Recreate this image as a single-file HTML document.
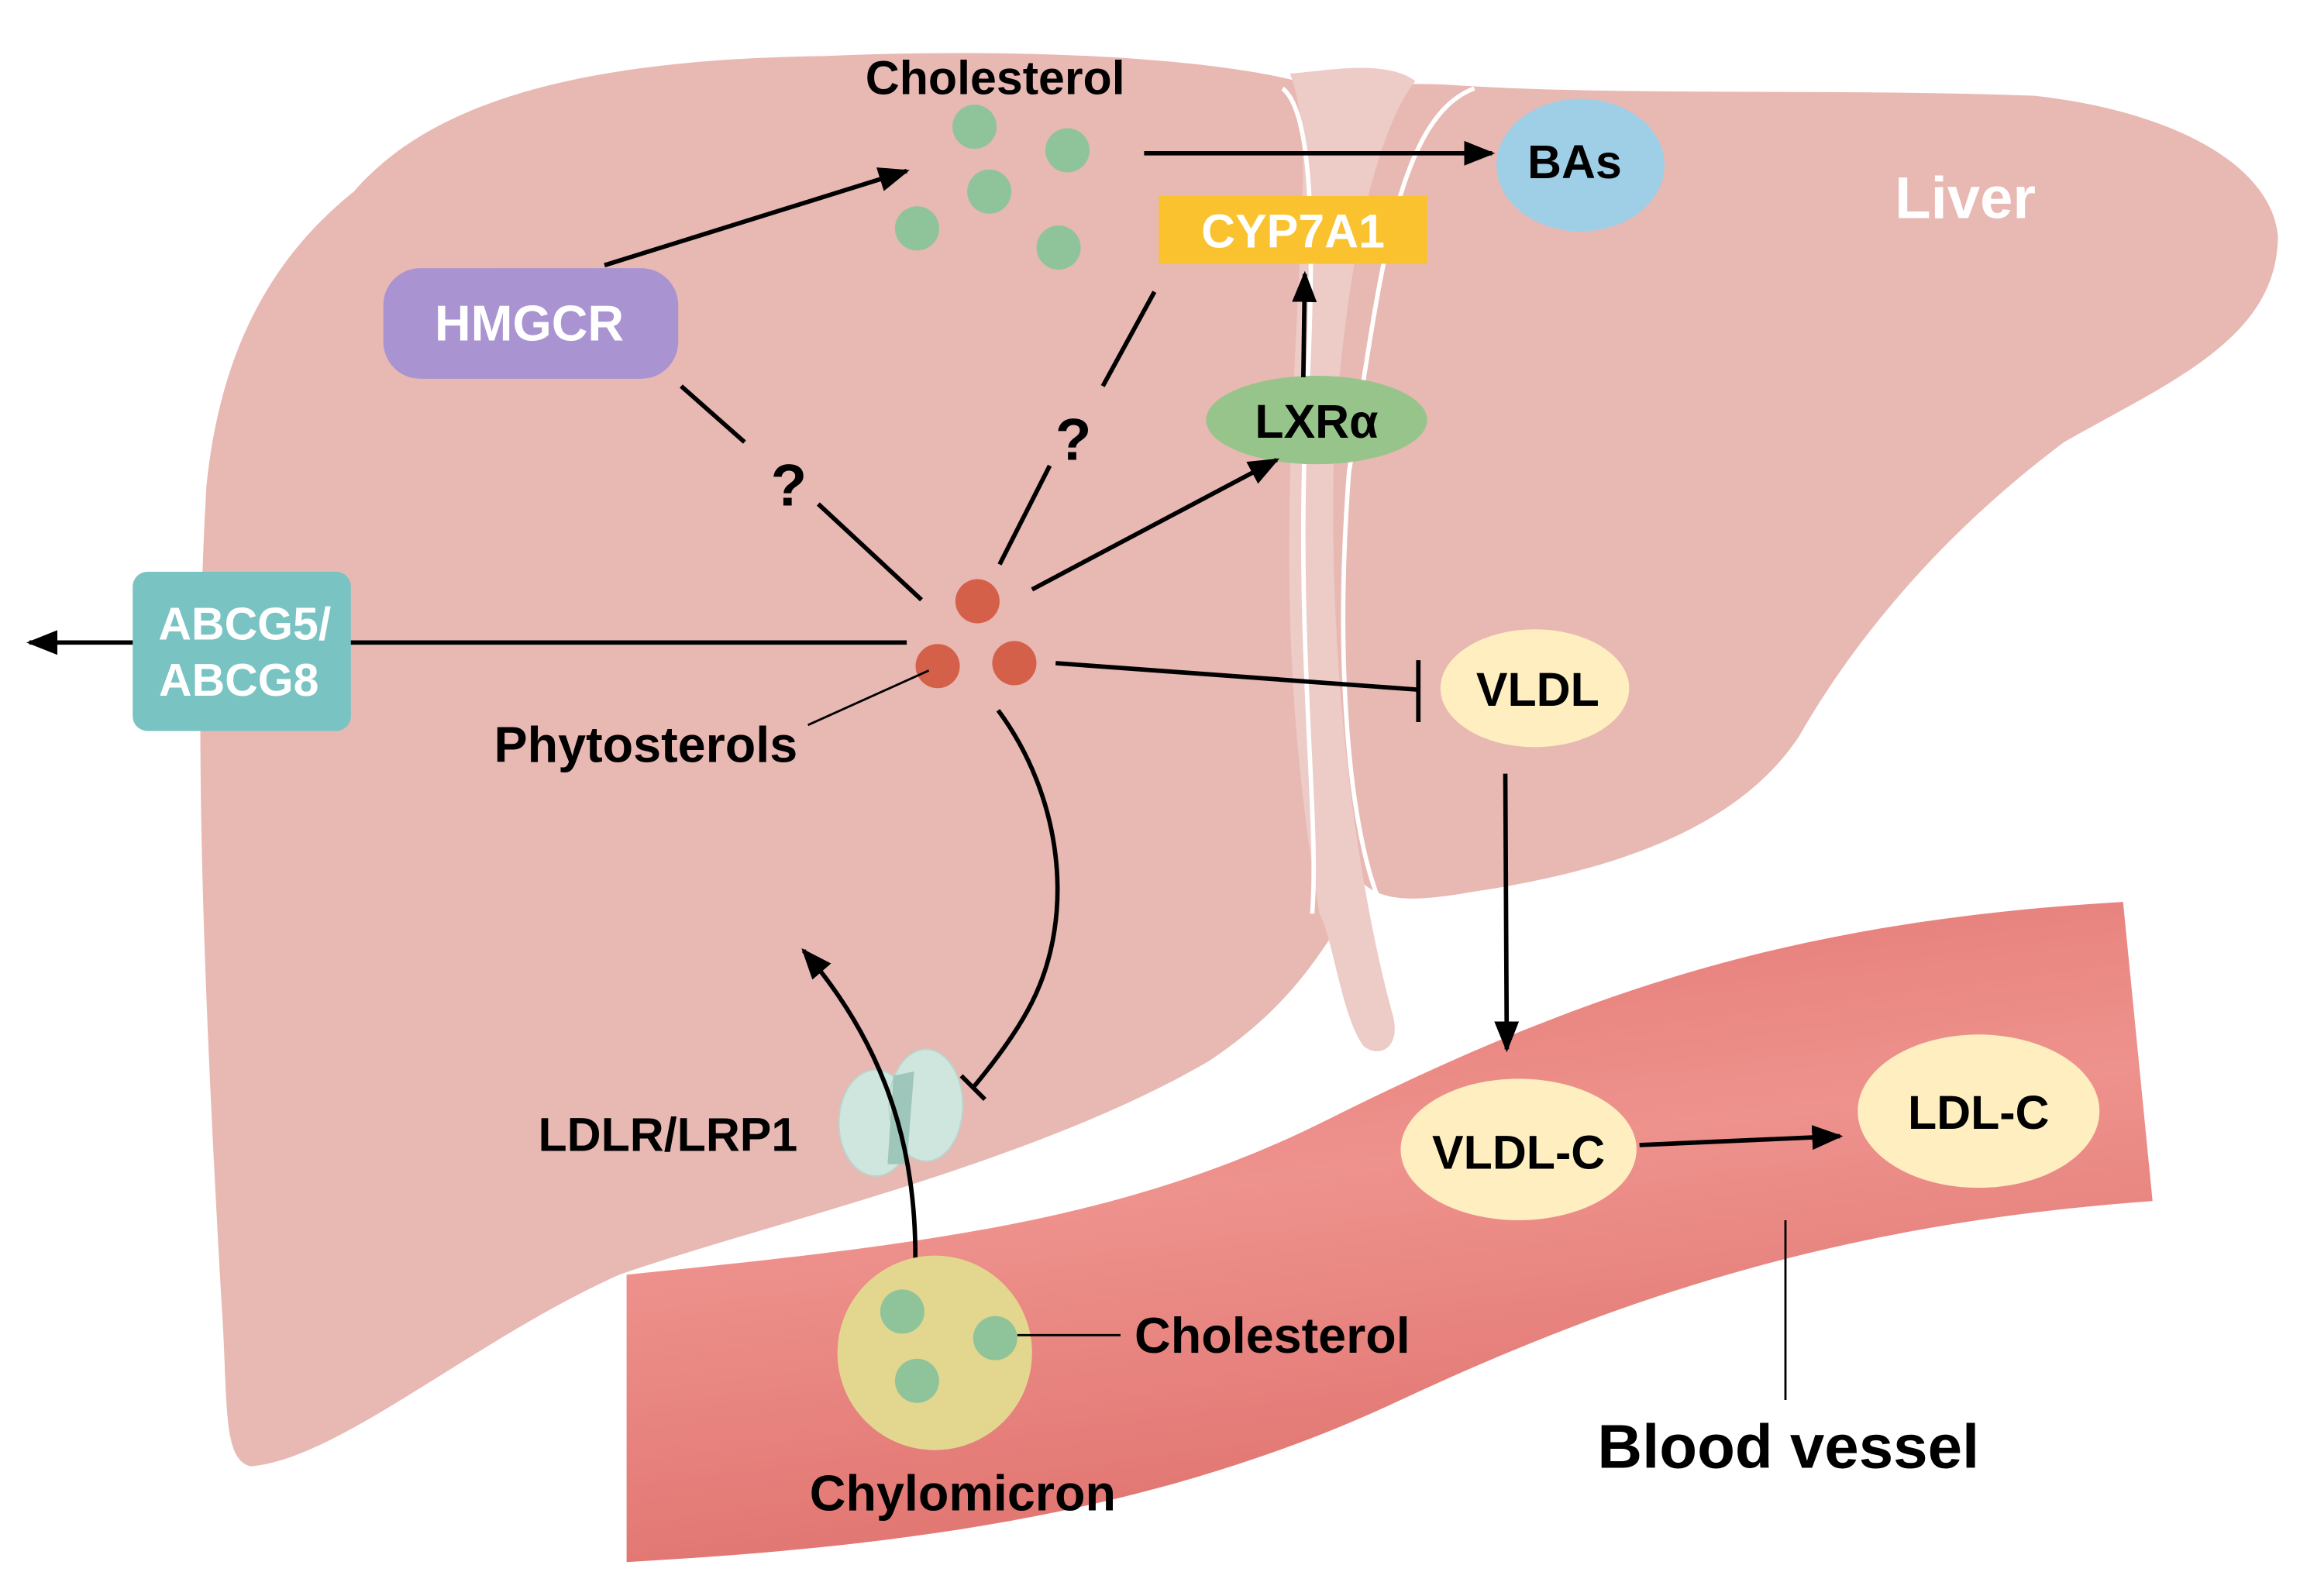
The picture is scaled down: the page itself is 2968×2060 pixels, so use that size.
<!DOCTYPE html>
<html><head><meta charset="utf-8"><style>
html,body{margin:0;padding:0;background:#fff;}
svg{display:block}
text{font-family:"Liberation Sans",Arial,sans-serif;font-weight:bold;}
</style></head><body>
<svg width="2968" height="2060" viewBox="0 0 1560 1083" preserveAspectRatio="none" xmlns="http://www.w3.org/2000/svg">
<defs>
<linearGradient id="bv" x1="0" y1="0" x2="0.3" y2="1">
<stop offset="0" stop-color="#e27470"/><stop offset="0.5" stop-color="#ee928d"/><stop offset="1" stop-color="#e0736f"/>
</linearGradient>
<marker id="ah" viewBox="0 0 10 10" refX="9" refY="5" markerWidth="7" markerHeight="7" orient="auto" markerUnits="strokeWidth"><path d="M0,1 L10,5 L0,9 z" fill="#000"/></marker>
</defs>
<!-- liver -->
<path d="M240,130 C300,60 420,40 560,38 C700,32 820,40 880,55 C920,60 950,55 990,58 C1100,65 1250,60 1380,65 C1470,75 1540,110 1545,160 C1545,230 1470,260 1400,300 C1320,360 1260,430 1220,500 C1180,560 1100,590 1000,605 C960,612 940,612 925,600 C900,640 880,680 820,720 C700,790 520,830 420,865 C320,910 230,990 170,995 C150,990 155,950 150,880 C140,700 130,500 140,330 C150,230 190,170 240,130 Z" fill="#e8b8b3"/>
<!-- ligament band -->
<path d="M875,50 C900,48 940,40 960,55 C940,80 915,150 905,300 C900,450 920,600 945,690 C950,712 935,718 925,710 C910,690 905,640 895,620 C875,500 870,400 878,250 C882,150 890,90 875,50 Z" fill="#edcbc7"/>
<path d="M870,60 C895,80 890,200 885,300 C880,450 895,560 890,620" stroke="#fff" stroke-width="3" fill="none"/>
<path d="M1000,60 C945,80 935,200 915,320 C905,450 915,560 935,610" stroke="#fff" stroke-width="3" fill="none"/>
<!-- blood vessel -->
<path d="M425,865 C620,845 760,830 900,760 C1080,670 1220,625 1440,612 L1460,815 C1250,830 1100,880 950,950 C780,1030 600,1050 425,1060 Z" fill="url(#bv)"/>
<!-- cholesterol dots -->
<g fill="#8fc49a"><circle cx="661" cy="86" r="15"/><circle cx="724" cy="102" r="15"/><circle cx="671" cy="130" r="15"/><circle cx="622" cy="155" r="15"/><circle cx="718" cy="168" r="15"/></g>
<text x="675" y="64" font-size="32" text-anchor="middle">Cholesterol</text>
<!-- HMGCR -->
<rect x="260" y="182" width="200" height="75" rx="25" fill="#a993d1"/>
<text x="359" y="231" font-size="34" fill="#fff" text-anchor="middle">HMGCR</text>
<line x1="410" y1="180" x2="615" y2="116" stroke="#000" stroke-width="3" marker-end="url(#ah)"/>
<!-- Cholesterol -> BAs -->
<line x1="776" y1="104" x2="1012" y2="104" stroke="#000" stroke-width="3" marker-end="url(#ah)"/>
<ellipse cx="1072" cy="112" rx="57" ry="45" fill="#9fcfe6"/>
<text x="1068" y="121" font-size="32" text-anchor="middle">BAs</text>
<text x="1333" y="148" font-size="40" fill="#fff" text-anchor="middle">Liver</text>
<!-- CYP7A1 -->
<rect x="786" y="133" width="182" height="46" fill="#f9c22e"/>
<text x="877" y="168" font-size="32" fill="#fff" text-anchor="middle">CYP7A1</text>
<!-- LXR -->
<ellipse cx="893" cy="285" rx="75" ry="30" fill="#97c48a"/>
<text x="893" y="297" font-size="32" text-anchor="middle">LXRα</text>
<line x1="884" y1="256" x2="885" y2="186" stroke="#000" stroke-width="3" marker-end="url(#ah)"/>
<!-- dashed ? lines -->
<line x1="462" y1="262" x2="505" y2="300" stroke="#000" stroke-width="3"/>
<line x1="555" y1="342" x2="625" y2="407" stroke="#000" stroke-width="3"/>
<text x="535" y="343" font-size="40" text-anchor="middle">?</text>
<line x1="783" y1="198" x2="748" y2="262" stroke="#000" stroke-width="3"/>
<line x1="712" y1="316" x2="678" y2="383" stroke="#000" stroke-width="3"/>
<text x="728" y="312" font-size="40" text-anchor="middle">?</text>
<line x1="700" y1="400" x2="866" y2="312" stroke="#000" stroke-width="3" marker-end="url(#ah)"/>
<!-- phytosterols -->
<g fill="#d5604a"><circle cx="663" cy="408" r="15"/><circle cx="636" cy="452" r="15"/><circle cx="688" cy="450" r="15"/></g>
<line x1="615" y1="436" x2="20" y2="436" stroke="#000" stroke-width="3" marker-end="url(#ah)"/>
<rect x="90" y="388" width="148" height="108" rx="10" fill="#79c3c3"/>
<text x="166" y="434" font-size="31" fill="#fff" text-anchor="middle">ABCG5/</text>
<text x="162" y="472" font-size="31" fill="#fff" text-anchor="middle">ABCG8</text>
<line x1="548" y1="492" x2="630" y2="455" stroke="#000" stroke-width="1.5"/>
<text x="438" y="517" font-size="34" text-anchor="middle">Phytosterols</text>
<!-- inhibit VLDL -->
<line x1="716" y1="450" x2="962" y2="468" stroke="#000" stroke-width="3"/>
<line x1="962" y1="448" x2="962" y2="490" stroke="#000" stroke-width="3"/>
<ellipse cx="1041" cy="467" rx="64" ry="40" fill="#feeec0"/>
<text x="1043" y="479" font-size="32" text-anchor="middle">VLDL</text>
<line x1="1021" y1="525" x2="1022" y2="712" stroke="#000" stroke-width="3" marker-end="url(#ah)"/>
<!-- curve to LDLR -->
<path d="M677,482 C720,540 730,620 700,680 C690,700 675,720 660,738" stroke="#000" stroke-width="3" fill="none"/>
<line x1="652" y1="730" x2="668" y2="746" stroke="#000" stroke-width="3"/>
<!-- receptor -->
<ellipse cx="594" cy="762" rx="25" ry="36" fill="#cfe6df" stroke="#b8d6cd"/>
<ellipse cx="628" cy="750" rx="25" ry="38" fill="#cfe6df" stroke="#b8d6cd"/>
<path d="M606,730 L620,727 L615,790 L602,790 Z" fill="#9fc6bb"/>
<text x="453" y="781" font-size="32" text-anchor="middle">LDLR/LRP1</text>
<path d="M620,880 C625,800 610,720 545,645" stroke="#000" stroke-width="3" fill="none" marker-end="url(#ah)"/>
<!-- chylomicron -->
<circle cx="634" cy="918" r="66" fill="#e3d78f"/>
<g fill="#8fc49a"><circle cx="612" cy="890" r="15"/><circle cx="675" cy="908" r="15"/><circle cx="622" cy="937" r="15"/></g>
<line x1="690" y1="906" x2="760" y2="906" stroke="#000" stroke-width="1.5"/>
<text x="863" y="918" font-size="34" text-anchor="middle">Cholesterol</text>
<text x="653" y="1025" font-size="34" text-anchor="middle">Chylomicron</text>
<!-- VLDL-C / LDL-C -->
<ellipse cx="1030" cy="780" rx="80" ry="48" fill="#feeec0"/>
<text x="1030" y="793" font-size="32" text-anchor="middle">VLDL-C</text>
<line x1="1112" y1="777" x2="1248" y2="771" stroke="#000" stroke-width="3" marker-end="url(#ah)"/>
<ellipse cx="1342" cy="754" rx="82" ry="52" fill="#feeec0"/>
<text x="1342" y="766" font-size="32" text-anchor="middle">LDL-C</text>
<line x1="1211" y1="828" x2="1211" y2="950" stroke="#000" stroke-width="1.5"/>
<text x="1213" y="996" font-size="42" text-anchor="middle">Blood vessel</text>
</svg>
</body></html>
